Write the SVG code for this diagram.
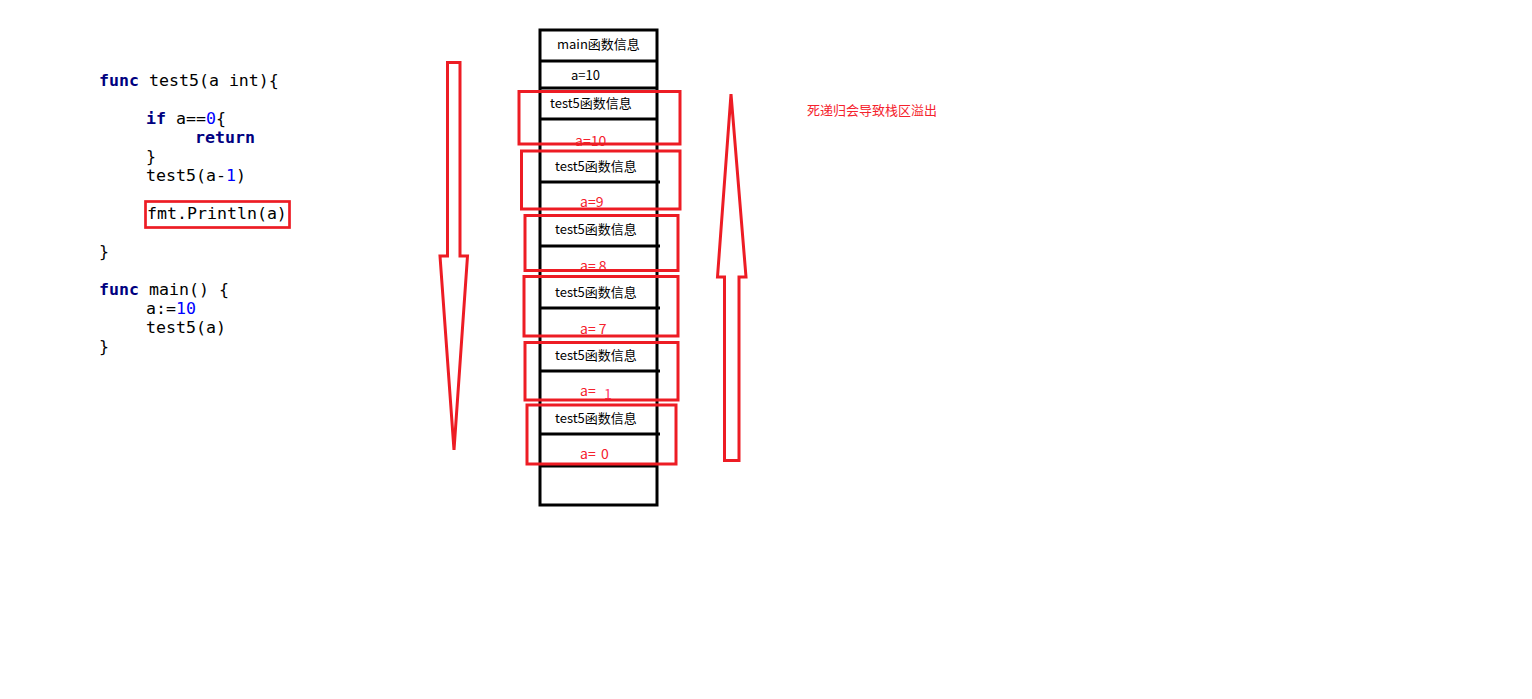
<svg xmlns="http://www.w3.org/2000/svg" width="1532" height="699" viewBox="0 0 1532 699">
<style>
.code{font-family:"DejaVu Sans Mono","Liberation Mono",monospace;font-size:16.6px;fill:#000}
.kw{font-weight:bold;fill:#000080}
.num{fill:#0000ff}
.lbl{font-family:"Noto Sans CJK SC","Noto Sans",sans-serif;font-size:13px;fill:#000}
.rlbl{font-family:"Noto Sans CJK SC","Noto Sans",sans-serif;font-size:14px;fill:#f5222d}
.blk{fill:none;stroke:#000;stroke-width:3}
.red{fill:none;stroke:#ed1c24;stroke-width:3}
</style>
<rect width="1532" height="699" fill="#fff"/>
<g id="code">
<text class="code" x="99" y="86"><tspan class="kw">func</tspan> test5(a int){</text>
<text class="code" x="146" y="124"><tspan class="kw">if</tspan> a==<tspan class="num">0</tspan>{</text>
<text class="code" x="195" y="143"><tspan class="kw">return</tspan></text>
<text class="code" x="146" y="162">}</text>
<text class="code" x="146" y="181">test5(a-<tspan class="num">1</tspan>)</text>
<text class="code" x="147" y="219">fmt.Println(a)</text>
<rect x="145.5" y="201.5" width="144" height="26" fill="none" stroke="#ed1c24" stroke-width="2.7"/>
<text class="code" x="99" y="257">}</text>
<text class="code" x="99" y="295"><tspan class="kw">func</tspan> main() {</text>
<text class="code" x="146" y="314">a:=<tspan class="num">10</tspan></text>
<text class="code" x="146" y="333">test5(a)</text>
<text class="code" x="99" y="352">}</text>
</g>
<g id="stack">
<rect class="blk" x="540" y="30" width="117" height="475"/>
<line class="blk" x1="540" y1="61" x2="657" y2="61"/>
<line class="blk" x1="540" y1="88" x2="657" y2="88"/>
<line class="blk" x1="540" y1="119" x2="657" y2="119"/>
<line class="blk" x1="540" y1="182" x2="660" y2="182"/>
<line class="blk" x1="540" y1="246" x2="660" y2="246"/>
<line class="blk" x1="540" y1="308" x2="660" y2="308"/>
<line class="blk" x1="540" y1="371" x2="660" y2="371"/>
<line class="blk" x1="540" y1="434" x2="660" y2="434"/>
<line class="blk" x1="540" y1="466" x2="657" y2="466"/>
<text class="lbl" x="557" y="49">main函数信息</text>
<text class="lbl" x="571" y="80">a=10</text>
</g>
<g id="frame1">
<text class="lbl" x="550" y="108">test5函数信息</text>
<text class="rlbl" x="575" y="146">a=10</text>
<rect class="red" x="519" y="91.5" width="161" height="52.5"/>
</g>
<g id="frame2">
<text class="lbl" x="555" y="171">test5函数信息</text>
<text class="rlbl" x="580" y="207">a=9</text>
<rect class="red" x="521.5" y="151" width="158.5" height="58"/>
</g>
<g id="frame3">
<text class="lbl" x="555" y="234">test5函数信息</text>
<text class="rlbl" x="580" y="271">a= 8</text>
<rect class="red" x="525" y="215.5" width="153" height="55"/>
</g>
<g id="frame4">
<text class="lbl" x="555" y="297">test5函数信息</text>
<text class="rlbl" x="580" y="334">a= 7</text>
<rect class="red" x="524" y="276.5" width="154" height="59.5"/>
</g>
<g id="frame5">
<text class="lbl" x="555" y="360">test5函数信息</text>
<text class="rlbl" x="580" y="396">a=</text>
<text class="rlbl" x="604" y="399" style="fill:#ff3b6b">1</text>
<rect class="red" x="525" y="342.5" width="153" height="57.5"/>
</g>
<g id="frame6">
<text class="lbl" x="555" y="423">test5函数信息</text>
<text class="rlbl" x="580" y="459">a=</text>
<text class="rlbl" x="601" y="459">0</text>
<rect class="red" x="527" y="405" width="149" height="59"/>
</g>
<g id="connectors">
<polygon class="red" points="447.5,62.5 460,62.5 460,256 467.5,256 454,450 440,256 447.5,256"/>
<polygon class="red" points="731,94 746,277 739,277 739,460.5 724.5,460.5 724.5,277 717.5,277"/>
</g>
<g id="note">
<text class="rlbl" x="807" y="115" style="font-size:13px">死递归会导致栈区溢出</text>
</g>
</svg>
